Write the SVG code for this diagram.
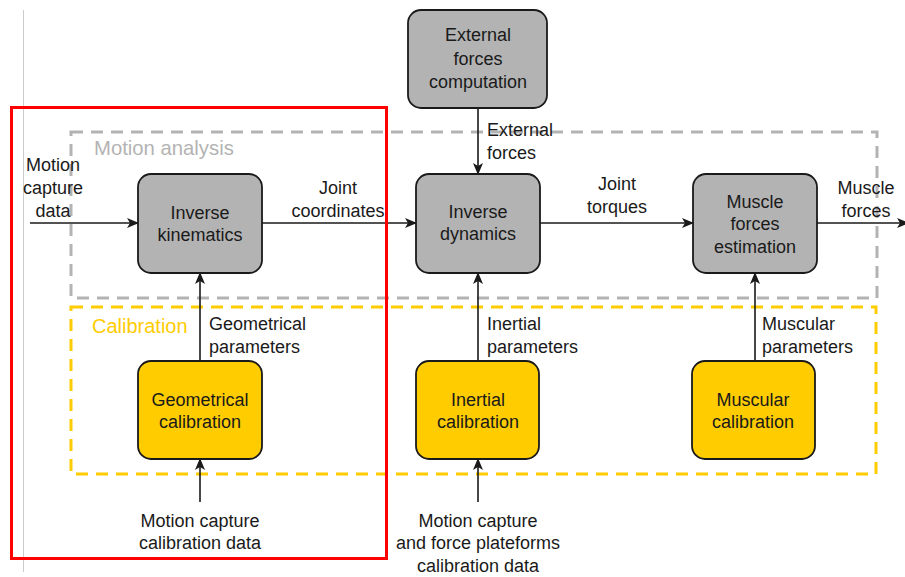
<svg xmlns="http://www.w3.org/2000/svg" width="905" height="577" viewBox="0 0 905 577">
<style>
text{font-family:"Liberation Sans",Arial,sans-serif;font-size:18px;fill:#1a1a1a}
.c{text-anchor:middle}
.gnode{fill:#b3b3b3;stroke:#1a1a1a;stroke-width:1.8}
.ynode{fill:#ffcc00;stroke:#1a1a1a;stroke-width:1.8}
.edge{stroke:#1a1a1a;stroke-width:1.6;fill:none}
</style>
<defs>
<marker id="ah" viewBox="0 0 12 10" refX="11" refY="5" markerWidth="12" markerHeight="10" markerUnits="userSpaceOnUse" orient="auto">
<path d="M0,0 L12,5 L0,10 L3,5 Z" fill="#1a1a1a"/>
</marker>
</defs>
<rect width="905" height="577" fill="#fff"/>
<line x1="23.5" y1="10" x2="23.5" y2="572" stroke="#cccccc" stroke-width="1"/>
<g id="group-motion-analysis">
<rect x="71" y="132" width="806" height="166" fill="none" stroke="#b3b3b3" stroke-width="3" stroke-dasharray="12 8"/>
<text x="94" y="155" style="font-size:20.3px;fill:#b3b3b3">Motion analysis</text>
</g>
<g id="group-calibration">
<rect x="71" y="307" width="805" height="167" fill="none" stroke="#ffcc00" stroke-width="3" stroke-dasharray="12 8"/>
<text x="92" y="333" style="font-size:20px;fill:#ffcc00">Calibration</text>
</g>
<g id="connectors">
<line class="edge" x1="30" y1="223" x2="138" y2="223" marker-end="url(#ah)"/>
<line class="edge" x1="262" y1="223" x2="416" y2="223" marker-end="url(#ah)"/>
<line class="edge" x1="540" y1="223" x2="693" y2="223" marker-end="url(#ah)"/>
<line class="edge" x1="817" y1="223" x2="908" y2="223" marker-end="url(#ah)"/>
<line class="edge" x1="478" y1="108" x2="478" y2="174" marker-end="url(#ah)"/>
<line class="edge" x1="200" y1="361" x2="200" y2="273" marker-end="url(#ah)"/>
<line class="edge" x1="478" y1="361" x2="478" y2="273" marker-end="url(#ah)"/>
<line class="edge" x1="755" y1="361" x2="755" y2="273" marker-end="url(#ah)"/>
<line class="edge" x1="200" y1="502" x2="200" y2="459" marker-end="url(#ah)"/>
<line class="edge" x1="478" y1="502" x2="478" y2="459" marker-end="url(#ah)"/>
<text class="c" x="53" y="171">Motion</text>
<text class="c" x="53" y="194">capture</text>
<text class="c" x="53" y="217">data</text>
<text class="c" x="338" y="194">Joint</text>
<text class="c" x="338" y="217">coordinates</text>
<text x="487" y="136">External</text>
<text x="487" y="159">forces</text>
<text class="c" x="617" y="190">Joint</text>
<text class="c" x="617" y="213">torques</text>
<text class="c" x="866" y="194">Muscle</text>
<text class="c" x="866" y="217">forces</text>
<text x="209" y="330">Geometrical</text>
<text x="209" y="353">parameters</text>
<text x="487" y="330">Inertial</text>
<text x="487" y="353">parameters</text>
<text x="762" y="330">Muscular</text>
<text x="762" y="353">parameters</text>
<text class="c" x="200" y="527">Motion capture</text>
<text class="c" x="200" y="549">calibration data</text>
<text class="c" x="478" y="527">Motion capture</text>
<text class="c" x="478" y="549">and force plateforms</text>
<text class="c" x="478" y="572">calibration data</text>
</g>
<g id="node-external-forces">
<rect class="gnode" x="408" y="10" width="139" height="98" rx="13"/>
<text class="c" x="478" y="41">External</text>
<text class="c" x="478" y="65">forces</text>
<text class="c" x="478" y="88">computation</text>
</g>
<g id="node-inverse-kinematics">
<rect class="gnode" x="138" y="174" width="124" height="99" rx="13"/>
<text class="c" x="200" y="219">Inverse</text>
<text class="c" x="200" y="241">kinematics</text>
</g>
<g id="node-inverse-dynamics">
<rect class="gnode" x="416" y="174" width="124" height="99" rx="13"/>
<text class="c" x="478" y="218">Inverse</text>
<text class="c" x="478" y="240">dynamics</text>
</g>
<g id="node-muscle-forces">
<rect class="gnode" x="693" y="174" width="124" height="99" rx="13"/>
<text class="c" x="755" y="208">Muscle</text>
<text class="c" x="755" y="230">forces</text>
<text class="c" x="755" y="253">estimation</text>
</g>
<g id="node-geometrical-calibration">
<rect class="ynode" x="138" y="361" width="124" height="98" rx="13"/>
<text class="c" x="200" y="406">Geometrical</text>
<text class="c" x="200" y="428">calibration</text>
</g>
<g id="node-inertial-calibration">
<rect class="ynode" x="416" y="361" width="123" height="98" rx="13"/>
<text class="c" x="478" y="406">Inertial</text>
<text class="c" x="478" y="428">calibration</text>
</g>
<g id="node-muscular-calibration">
<rect class="ynode" x="692" y="361" width="123" height="98" rx="13"/>
<text class="c" x="753" y="406">Muscular</text>
<text class="c" x="753" y="428">calibration</text>
</g>
<g id="highlight">
<rect x="11.5" y="107.5" width="375" height="451" fill="none" stroke="#ff0000" stroke-width="3"/>
</g>
</svg>
